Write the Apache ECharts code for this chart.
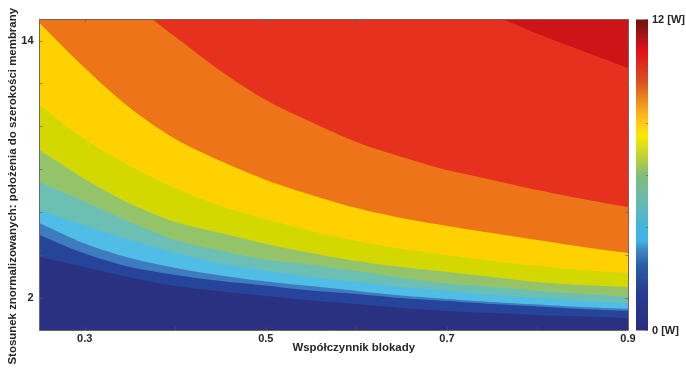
<!DOCTYPE html>
<html><head><meta charset="utf-8">
<script src="https://cdn.jsdelivr.net/npm/echarts@6/dist/echarts.min.js"></script>
<style>html,body{margin:0;padding:0;background:#fff}#c{width:686px;height:369px}</style>
</head><body><div id="c"></div>
<script>
const xs = [0.25,0.30,0.35,0.40,0.45,0.50,0.55,0.60,0.65,0.70,0.75,0.80,0.85,0.90];
const level1  = [3.91,3.44,2.95,2.55,2.30,2.09,1.88,1.71,1.53,1.39,1.29,1.20,1.13,1.06];
const level2  = [4.94,4.07,3.44,3.07,2.79,2.58,2.34,2.18,1.99,1.85,1.71,1.60,1.48,1.39];
const level3  = [5.50,4.54,3.86,3.40,3.05,2.77,2.55,2.32,2.11,1.95,1.81,1.69,1.57,1.48];
const level4  = [6.10,5.36,4.70,4.10,3.61,3.26,2.98,2.74,2.51,2.32,2.13,1.99,1.85,1.74];
const level5  = [7.41,6.48,5.54,4.70,4.19,3.79,3.54,3.26,2.93,2.67,2.51,2.32,2.18,2.04];
const level6  = [8.91,7.55,6.39,5.54,5.03,4.52,4.10,3.72,3.44,3.21,2.98,2.74,2.60,2.51];
const level7  = [11.01,9.40,8.16,7.13,6.29,5.68,5.12,4.66,4.28,4.00,3.72,3.49,3.30,3.16];
const level8  = [14.84,12.74,10.87,9.42,8.39,7.51,6.81,6.20,5.73,5.36,5.03,4.70,4.38,4.10];
const xs9     = [0.25,0.35,0.375,0.40,0.45,0.50,0.55,0.60,0.65,0.70,0.75,0.80,0.85,0.90];
const level9  = [16,15.85,15,14.19,12.60,11.24,10.21,9.28,8.58,7.97,7.51,7.04,6.62,6.24];
const xs10    = [0.25,0.73,0.763,0.80,0.85,0.90];
const level10 = [15.6,15.55,15,14.33,13.53,12.74];
const xsTop   = [0.25,0.90];
const levelTop= [16,16];

const bandColors = ['#2a3180','#26449a','#3e7cc0','#4fbde5','#6cbfb3','#95c36a','#d3d800','#ffd100','#ee7419','#e7311f','#cd1416'];
const xTicks = [0.3,0.4,0.5,0.6,0.7,0.8,0.9];
const xLabels = [0.3,0.5,0.7,0.9];
const yTicks = [2,4,6,8,10,12,14];
const yLabels = [2,14];
const barTicks = [0,2,4,6,8,10,12];
const barLabels = [0,12];
const barName = ['moc'];
const barValue = [12];
const xTitle = 'Współczynnik blokady';
const yTitle = 'Stosunek znormalizowanych: położenia do szerokości membrany';

const zip = (a,b) => a.map((v,i)=>[v,b[i]]);
const layers = [
  [xsTop,levelTop,10],[xs10,level10,9],[xs9,level9,8],[xs,level8,7],[xs,level7,6],[xs,level6,5],
  [xs,level5,4],[xs,level4,3],[xs,level3,2],[xs,level2,1],[xs,level1,0]
];
const font = {fontFamily:'Liberation Sans',fontWeight:'bold',fontSize:11,color:'#26262a'};
const nameFont = {...font,fontSize:11.45};
const axisLine = {show:true,lineStyle:{color:'#75655f',width:1}};
const tick = (vals,len=3)=>({show:true,inside:true,length:len,customValues:vals,lineStyle:{color:'#5a5a50',width:1,opacity:.6}});

const option = {
  backgroundColor:'#fff',
  animation:false,
  grid:[
    {left:39.5,right:58,top:19.5,bottom:39,outerBoundsMode:'none'},
    {left:636,width:12,top:19.5,bottom:38.5,outerBoundsMode:'none'}
  ],
  xAxis:[
    {type:'value',gridIndex:0,min:0.25,max:0.9,position:'bottom',z:20,splitLine:{show:false},axisLine,
     axisTick:tick(xTicks),axisLabel:{...font,margin:3,customValues:xLabels,formatter:v=>v.toFixed(1),showMinLabel:true,showMaxLabel:true},
     name:xTitle,nameLocation:'middle',nameGap:12,nameMoveOverlap:false,nameTextStyle:{...nameFont,padding:[0,0,0,40]}},
    {type:'value',gridIndex:0,min:0.25,max:0.9,position:'top',z:20,splitLine:{show:false},axisLine,
     axisTick:tick(xTicks),axisLabel:{show:false}},
    {type:'category',gridIndex:1,data:barName,show:false}
  ],
  yAxis:[
    {type:'value',gridIndex:0,min:0.5,max:15,position:'left',z:20,splitLine:{show:false},axisLine,
     axisTick:tick(yTicks),axisLabel:{...font,margin:6,customValues:yLabels},
     name:yTitle,nameLocation:'middle',nameGap:21,nameRotate:90,nameMoveOverlap:false,nameTextStyle:{...nameFont,padding:[0,23,0,0]}},
    {type:'value',gridIndex:0,min:0.5,max:15,position:'right',z:20,splitLine:{show:false},axisLine,
     axisTick:tick(yTicks),axisLabel:{show:false}},
    {type:'value',gridIndex:1,min:0,max:12,position:'right',z:20,splitLine:{show:false},axisLine:{show:false},
     axisTick:tick(barTicks,2),axisLabel:{...font,margin:4,customValues:barLabels,formatter:v=>v+' [W]'}}
  ],
  series:[
    ...layers.map((l,i)=>({
      type:'line',xAxisIndex:0,yAxisIndex:0,data:zip(l[0],l[1]),z:2+i,
      smooth:0.3,showSymbol:false,silent:true,clip:true,
      lineStyle:{width:0},areaStyle:{color:bandColors[l[2]],opacity:1,origin:'start'},itemStyle:{color:bandColors[l[2]]}
    })),
    {type:'bar',xAxisIndex:2,yAxisIndex:2,data:barValue,barWidth:'100%',silent:true,
     itemStyle:{color:new echarts.graphic.LinearGradient(0,0,0,1,[
       {offset:0,color:'#6a1410'},{offset:0.1,color:'#e2111b'},{offset:0.2,color:'#d95020'},
       {offset:0.29,color:'#f5a81d'},{offset:0.33,color:'#ffc81a'},{offset:0.375,color:'#f8ea05'},
       {offset:0.45,color:'#b8cf3a'},{offset:0.5,color:'#80be7a'},{offset:0.58,color:'#6ab9ac'},
       {offset:0.66,color:'#45b5d8'},{offset:0.71,color:'#3fb4ea'},{offset:0.74,color:'#3d88c5'},
       {offset:0.79,color:'#2c5ea5'},{offset:0.87,color:'#263f94'},{offset:1,color:'#2a2c7c'}
     ])}}
  ]
};
const chart = echarts.init(document.getElementById('c'),null,{renderer:'canvas'});
chart.setOption(option);
</script></body></html>
